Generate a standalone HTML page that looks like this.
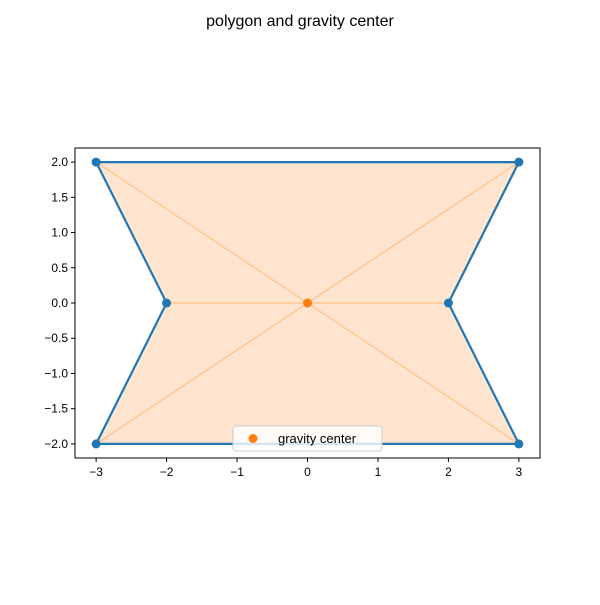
<!DOCTYPE html>
<html><head><meta charset="utf-8"><style>
body{margin:0;background:#fff;}
svg text{font-family:"Liberation Sans","DejaVu Sans",sans-serif;}
</style></head><body>
<svg id="chart" width="600" height="600" viewBox="0 0 600 600" xmlns="http://www.w3.org/2000/svg">
<rect width="600" height="600" fill="#fff"/>
<text x="300" y="26" font-size="16" text-anchor="middle">polygon and gravity center</text>
<g id="plot"></g>
</svg>
<script>
const polyX=[-3,3,2,3,-3,-2];
const polyY=[2,2,0,-2,-2,0];
const centerX=[0];
const centerY=[0];
const xTicks=[-3,-2,-1,0,1,2,3];
const yTicks=[-2.0,-1.5,-1.0,-0.5,0.0,0.5,1.0,1.5,2.0];
const L=75,R=540,T=148,B=458,x0=-3.3,x1=3.3,y0=-2.2,y1=2.2;
const sx=v=>L+(v-x0)/(x1-x0)*(R-L);
const sy=v=>B-(v-y0)/(y1-y0)*(B-T);
const g=document.getElementById('plot');
const NS='http://www.w3.org/2000/svg';
function mk(t,a){const e=document.createElementNS(NS,t);for(const k in a)e.setAttribute(k,a[k]);g.appendChild(e);return e;}
const pts=polyX.map((x,i)=>sx(x)+','+sy(polyY[i])).join(' ');
let e=mk('polygon',{points:pts,fill:'#ff7f0e','fill-opacity':0.2,stroke:'none'});


polyX.forEach((x,i)=>{const l=mk('line',{x1:sx(centerX[0]),y1:sy(centerY[0]),x2:sx(x),y2:sy(polyY[i]),stroke:'#ffbf86','stroke-width':1.2});

});
e=mk('polygon',{points:pts,fill:'none',stroke:'#1f77b4','stroke-width':2.2,'stroke-linejoin':'round'});


polyX.forEach((x,i)=>{const c=mk('circle',{cx:sx(x),cy:sy(polyY[i]),r:4.5,fill:'#1f77b4'});

});
e=mk('circle',{cx:sx(centerX[0]),cy:sy(centerY[0]),r:4.5,fill:'#ff7f0e'});


e=mk('rect',{x:L,y:T,width:R-L,height:B-T,fill:'none',stroke:'#000','stroke-width':1});


xTicks.forEach(v=>{const x=sx(v);mk('line',{x1:x,y1:B,x2:x,y2:B+4,stroke:'#000'});
const t=mk('text',{x:x,y:B+18,'font-size':12,'text-anchor':'middle'});t.textContent=String(v).replace('-','\u2212');

});
yTicks.forEach(v=>{const y=sy(v);mk('line',{x1:L-4,y1:y,x2:L,y2:y,stroke:'#000'});
const t=mk('text',{x:L-7,y:y+4,'font-size':12,'text-anchor':'end'});t.textContent=v.toFixed(1).replace('-','\u2212');

});
e=mk('rect',{x:233,y:426,width:149,height:25,rx:3,fill:'#fff','fill-opacity':0.8,stroke:'#ccc'});


mk('circle',{cx:253,cy:438.5,r:4.5,fill:'#ff7f0e'});
e=mk('text',{x:278,y:443,'font-size':13});e.textContent='gravity center';


</script>
</body></html>
